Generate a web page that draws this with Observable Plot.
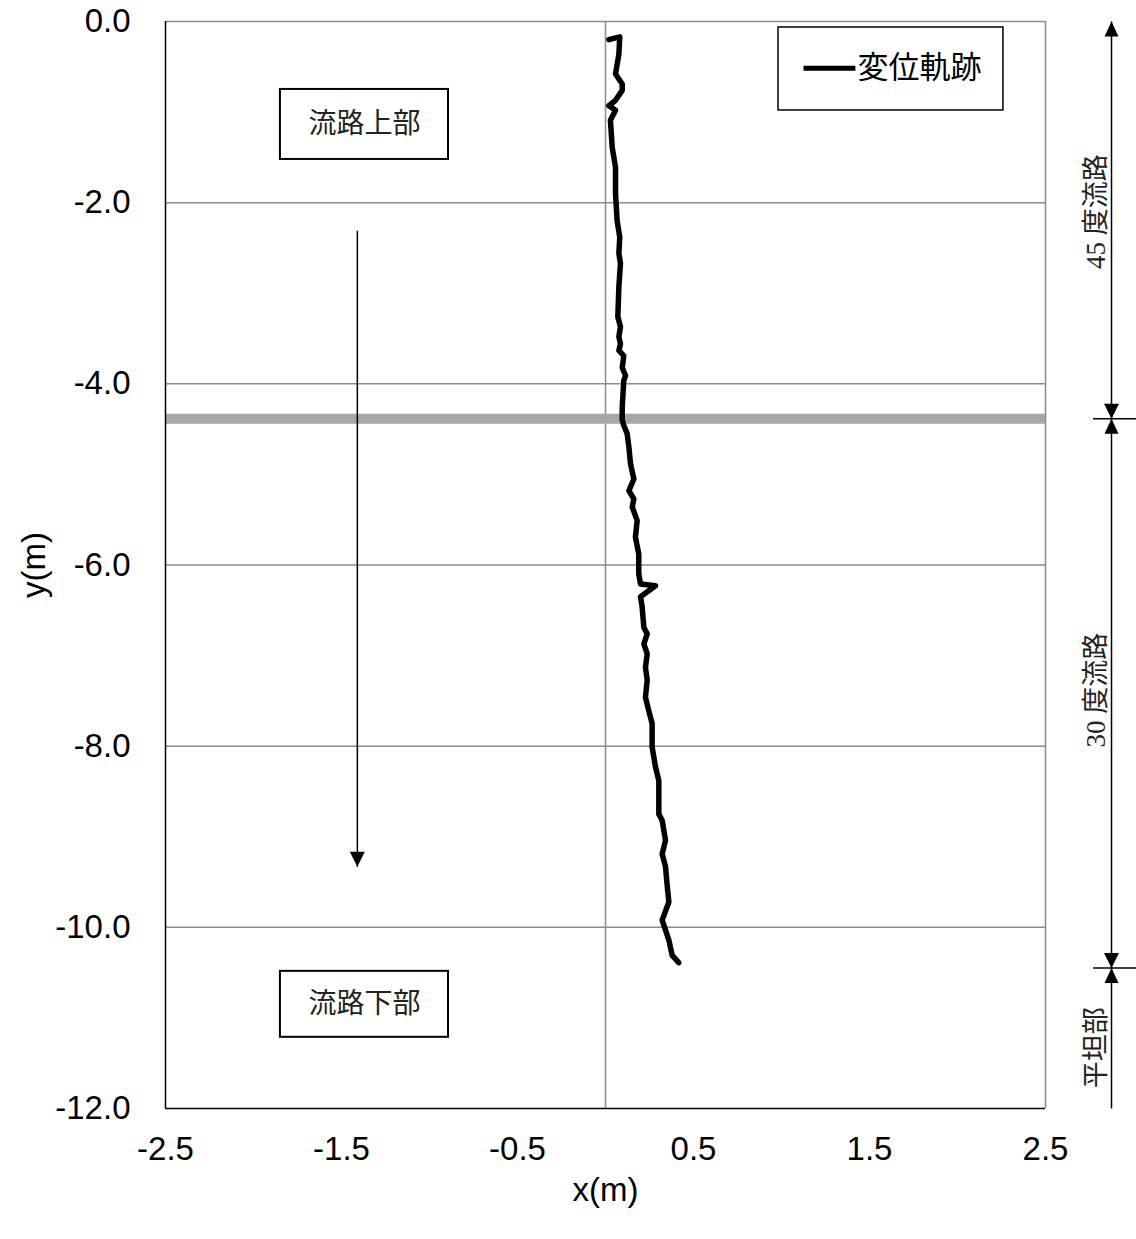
<!DOCTYPE html>
<html><head><meta charset="utf-8">
<script src="https://cdn.jsdelivr.net/npm/d3@7"></script>
<script src="https://cdn.jsdelivr.net/npm/@observablehq/plot@0.6"></script>
<style>body{margin:0;background:#fff} #chart svg{display:block}</style>
</head><body><div id="chart"></div>
<script>
// Displacement trajectory (m)
const trajX = [0.019,0.081,0.076,0.057,0.095,0.095,0.057,0.019,0.057,0.028,0.038,0.057,0.057,0.066,0.081,0.076,0.085,0.076,0.070,0.085,0.076,0.085,0.076,0.104,0.095,0.114,0.104,0.095,0.095,0.104,0.123,0.133,0.142,0.161,0.133,0.161,0.152,0.180,0.170,0.189,0.189,0.199,0.284,0.199,0.208,0.218,0.237,0.218,0.237,0.227,0.237,0.227,0.246,0.265,0.265,0.265,0.284,0.303,0.303,0.322,0.341,0.322,0.341,0.351,0.360,0.322,0.341,0.360,0.379,0.416];
const trajY = [-0.20,-0.17,-0.36,-0.58,-0.69,-0.76,-0.87,-0.93,-0.98,-1.09,-1.39,-1.61,-1.90,-2.20,-2.38,-2.56,-2.67,-2.93,-3.26,-3.37,-3.48,-3.56,-3.63,-3.69,-3.82,-3.91,-3.96,-4.26,-4.40,-4.46,-4.55,-4.70,-4.88,-5.05,-5.18,-5.27,-5.36,-5.51,-5.69,-5.88,-6.10,-6.21,-6.23,-6.35,-6.46,-6.69,-6.76,-6.87,-6.98,-7.13,-7.27,-7.46,-7.61,-7.75,-7.94,-8.01,-8.23,-8.38,-8.75,-8.82,-9.04,-9.19,-9.33,-9.55,-9.72,-9.92,-10.03,-10.14,-10.31,-10.39];

const xTicks = [-2.5,-1.5,-0.5,0.5,1.5,2.5];
const yTicks = [0,-2,-4,-6,-8,-10,-12];
const gridY = [0,-2,-4,-6,-8,-10];
const gridX = [0,2.5];
const boundaryY = [-4.385];

// text boxes (data units)
const boxLabels = ["流路上部","流路下部"];
const boxX1 = [-1.847,-1.847], boxX2 = [-0.892,-0.892];
const boxY1 = [-0.75,-10.486], boxY2 = [-1.523,-11.214];
const flowArrowX = [-1.41], flowArrowY1 = [-2.31], flowArrowY2 = [-9.33];

// legend (data units)
const legendLabel = ["変位軌跡"];
const legendBox = {x1:0.983, x2:2.261, y1:-0.066, y2:-0.982};
const legendLineX = [1.125,1.42], legendY = -0.515, legendTextX = 1.432;

// right-side section annotation
const sectionX = 2.875;
const sectionEdges = [0,-4.385,-10.45,-12];
const sectionLabels = ["45 度流路","30 度流路","平坦部"];
const sectionLabelY = [-2.1,-7.38,-11.33];
const sectionLabelX = 2.79;
const tickX1 = 2.77, tickX2 = 3.02;

const triUp = {draw(ctx){ctx.moveTo(0,0);ctx.lineTo(7,15);ctx.lineTo(-7,15);ctx.closePath();}};
const triDown = {draw(ctx){ctx.moveTo(0,0);ctx.lineTo(7.5,-15);ctx.lineTo(-7.5,-15);ctx.closePath();}};

const traj = trajX.map((x,i)=>({x, y: trajY[i]}));
const sans = "'Liberation Sans', Arial, sans-serif";
const cjkSans = "'Liberation Sans','Noto Sans CJK JP', sans-serif";
const cjkSerif = "'Liberation Serif','Noto Sans CJK JP', serif";

const chart = Plot.plot({
  width: 1136, height: 1239,
  marginLeft: 165, marginRight: 91, marginTop: 21, marginBottom: 131,
  x: {domain: [-2.5, 2.5]},
  y: {domain: [-12, 0]},
  style: {fontFamily: sans, background: "#fff"},
  marks: [
    Plot.ruleY(gridY, {stroke: "#8c8c8c", strokeWidth: 1.5}),
    Plot.ruleX(gridX, {stroke: "#8c8c8c", strokeWidth: 1.5}),
    Plot.ruleY(boundaryY, {stroke: "#a6a6a6", strokeWidth: 10}),
    Plot.ruleX([-2.5], {stroke: "#000", strokeWidth: 1.5}),
    Plot.ruleY([-12], {stroke: "#000", strokeWidth: 1.5}),
    Plot.axisY(yTicks, {tickSize: 0, tickPadding: 35, fontSize: 33, tickFormat: d => d.toFixed(1), label: null}),
    Plot.axisX(xTicks, {tickSize: 0, tickPadding: 28, fontSize: 33, tickFormat: d => d.toFixed(1), label: null}),
    Plot.text(["x(m)"], {frameAnchor: "bottom", dy: 82, lineAnchor: "middle", textAnchor: "middle", fontSize: 33, fill: "#000"}),
    Plot.text(["y(m)"], {frameAnchor: "left", dx: -131, rotate: -90, textAnchor: "middle", lineAnchor: "middle", fontSize: 33, fill: "#000"}),
    // text boxes
    Plot.rect(boxLabels, {x1: (d,i)=>boxX1[i], x2: (d,i)=>boxX2[i], y1: (d,i)=>boxY1[i], y2: (d,i)=>boxY2[i], fill: "#fff", stroke: "#000", strokeWidth: 2}),
    Plot.text(boxLabels, {x: (d,i)=>(boxX1[i]+boxX2[i])/2, y: (d,i)=>(boxY1[i]+boxY2[i])/2, text: d=>d, fontSize: 28, fontFamily: cjkSerif, fill: "#222"}),
    // flow direction arrow
    Plot.link(flowArrowX, {x1: d=>d, x2: d=>d, y1: flowArrowY1[0], y2: flowArrowY2[0], stroke: "#000", strokeWidth: 1.5}),
    Plot.dot(flowArrowX, {x: d=>d, y: flowArrowY2[0], symbol: triDown, fill: "#000", stroke: null}),
    // trajectory
    Plot.line(traj, {x: "x", y: "y", stroke: "#000", strokeWidth: 5.5, strokeLinejoin: "round", strokeLinecap: "round", curve: "linear"}),
    // legend
    Plot.rect([legendBox], {x1: "x1", x2: "x2", y1: "y1", y2: "y2", fill: "#fff", stroke: "#000", strokeWidth: 1.5}),
    Plot.link([0], {x1: legendLineX[0], x2: legendLineX[1], y1: legendY, y2: legendY, stroke: "#000", strokeWidth: 5}),
    Plot.text(legendLabel, {x: legendTextX, y: legendY, text: d=>d, textAnchor: "start", fontSize: 31, fontFamily: cjkSans, fill: "#000"}),
    // right-side section annotation
    Plot.link([0], {x1: sectionX, x2: sectionX, y1: sectionEdges[0], y2: sectionEdges[3], stroke: "#000", strokeWidth: 1.5}),
    Plot.link([sectionEdges[1], sectionEdges[2]], {x1: tickX1, x2: tickX2, y1: d=>d, y2: d=>d, stroke: "#000", strokeWidth: 1.5}),
    Plot.dot([sectionEdges[0], sectionEdges[1], sectionEdges[2]], {x: sectionX, y: d=>d, symbol: triUp, fill: "#000", stroke: null}),
    Plot.dot([sectionEdges[1], sectionEdges[2]], {x: sectionX, y: d=>d, symbol: triDown, fill: "#000", stroke: null}),
    Plot.text(sectionLabels, {x: sectionLabelX, y: (d,i)=>sectionLabelY[i], text: d=>d, rotate: -90, fontSize: 27, fontFamily: cjkSerif, fill: "#222"})
  ]
});
document.getElementById("chart").append(chart);
</script>
</body></html>
